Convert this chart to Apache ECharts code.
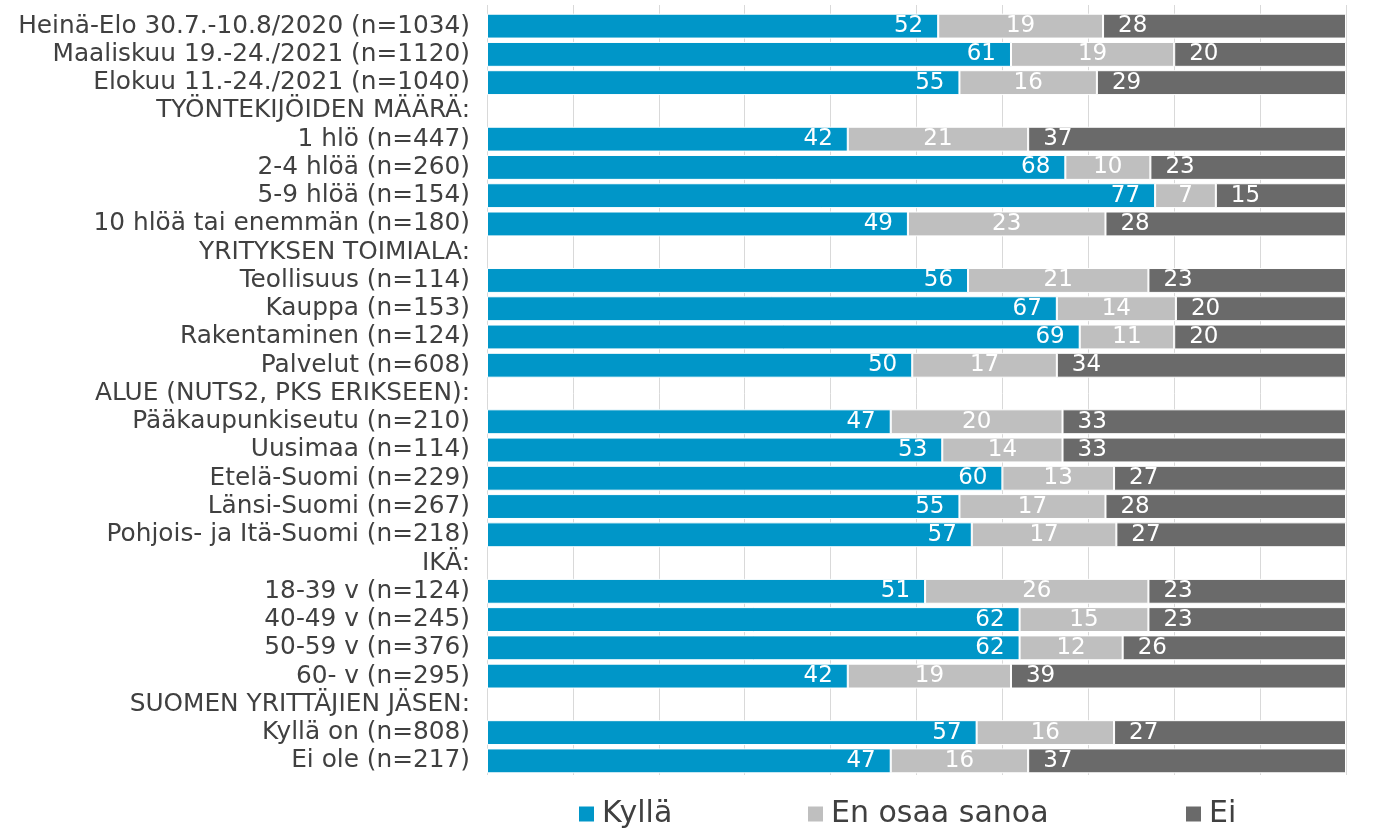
<!DOCTYPE html>
<html>
<head>
<meta charset="utf-8">
<script src="https://cdn.jsdelivr.net/npm/echarts@6/dist/echarts.min.js"></script>
<style>
  html, body { margin: 0; padding: 0; background: #fff; }
  #chart { width: 1381px; height: 829px; }
</style>
</head>
<body>
<div id="chart"></div>
<script>
// rivit ylhäältä alas, väliotsikoilla ei ole arvoja
const categories = [
  'Heinä-Elo 30.7.-10.8/2020 (n=1034)',
  'Maaliskuu 19.-24./2021 (n=1120)',
  'Elokuu 11.-24./2021 (n=1040)',
  'TYÖNTEKIJÖIDEN MÄÄRÄ:',
  '1 hlö (n=447)',
  '2-4 hlöä (n=260)',
  '5-9 hlöä (n=154)',
  '10 hlöä tai enemmän (n=180)',
  'YRITYKSEN TOIMIALA:',
  'Teollisuus (n=114)',
  'Kauppa (n=153)',
  'Rakentaminen (n=124)',
  'Palvelut (n=608)',
  'ALUE (NUTS2, PKS ERIKSEEN):',
  'Pääkaupunkiseutu (n=210)',
  'Uusimaa (n=114)',
  'Etelä-Suomi (n=229)',
  'Länsi-Suomi (n=267)',
  'Pohjois- ja Itä-Suomi (n=218)',
  'IKÄ:',
  '18-39 v (n=124)',
  '40-49 v (n=245)',
  '50-59 v (n=376)',
  '60- v (n=295)',
  'SUOMEN YRITTÄJIEN JÄSEN:',
  'Kyllä on (n=808)',
  'Ei ole (n=217)'
]
const kylla = [52, 61, 55, null, 42, 68, 77, 49, null, 56, 67, 69, 50, null, 47, 53, 60, 55, 57, null, 51, 62, 62, 42, null, 57, 47]
const enOsaa = [19, 19, 16, null, 21, 10, 7, 23, null, 21, 14, 11, 17, null, 20, 14, 13, 17, 17, null, 26, 15, 12, 19, null, 16, 16]
const ei = [28, 20, 29, null, 37, 23, 15, 28, null, 23, 20, 20, 34, null, 33, 33, 27, 28, 27, null, 23, 23, 26, 39, null, 27, 37]

const seriesNames = ['Kyllä', 'En osaa sanoa', 'Ei']
const colors = ['#0096C8', '#BFBFBF', '#6A6A6A']
const textColor = '#404040'
const font = 'DejaVu Sans'

// pylväät skaalataan 100 %:iin, tarrat näyttävät alkuperäiset luvut
function share(arr, i) {
  if (arr[i] == null) return null
  const sum = kylla[i] + enOsaa[i] + ei[i]
  return arr[i] / sum * 100
}

const raw = [kylla, enOsaa, ei]
const labelPos = ['insideRight', 'inside', 'insideLeft']

const series = raw.map(function (arr, s) {
  return {
    name: seriesNames[s],
    type: 'bar',
    stack: 'total',
    barCategoryGap: '12%',
    itemStyle: { color: colors[s], borderColor: '#fff', borderWidth: 1 },
    label: {
      show: true,
      position: labelPos[s],
      distance: 15,
      color: '#fff',
      fontFamily: font,
      fontSize: 23,
      formatter: function (p) {
        const v = arr[p.dataIndex]
        return v == null ? '' : String(v)
      }
    },
    emphasis: { disabled: true },
    data: arr.map(function (v, i) { return share(arr, i) })
  }
})

function legendAt(name, left) {
  return {
    data: [name],
    left: left,
    top: 799,
    padding: 0,
    icon: 'rect',
    itemWidth: 17,
    itemHeight: 17,
    selectedMode: false,
    textStyle: { color: textColor, fontFamily: font, fontSize: 30, padding: [0, 0, 0, 2] }
  }
}

const chart = echarts.init(document.getElementById('chart'))
chart.setOption({
  animation: false,
  backgroundColor: '#fff',
  grid: { left: 487, right: 35, top: 12, bottom: 54, containLabel: false },
  legend: [
    legendAt('Kyllä', 577),
    legendAt('En osaa sanoa', 806),
    legendAt('Ei', 1184)
  ],
  xAxis: {
    type: 'value',
    position: 'top',
    min: 0,
    max: 100,
    interval: 10,
    axisLabel: { show: false },
    axisLine: { show: false },
    axisTick: { show: true, inside: false, length: 7, lineStyle: { color: '#D9D9D9' } },
    splitLine: { show: true, lineStyle: { color: '#D9D9D9', width: 1 } }
  },
  yAxis: {
    type: 'category',
    inverse: true,
    data: categories,
    axisLine: { show: false },
    axisTick: { show: false },
    axisLabel: {
      interval: 0,
      color: textColor,
      fontFamily: font,
      fontSize: 24.8,
      margin: 17
    }
  },
  series: series
})
</script>
</body>
</html>
